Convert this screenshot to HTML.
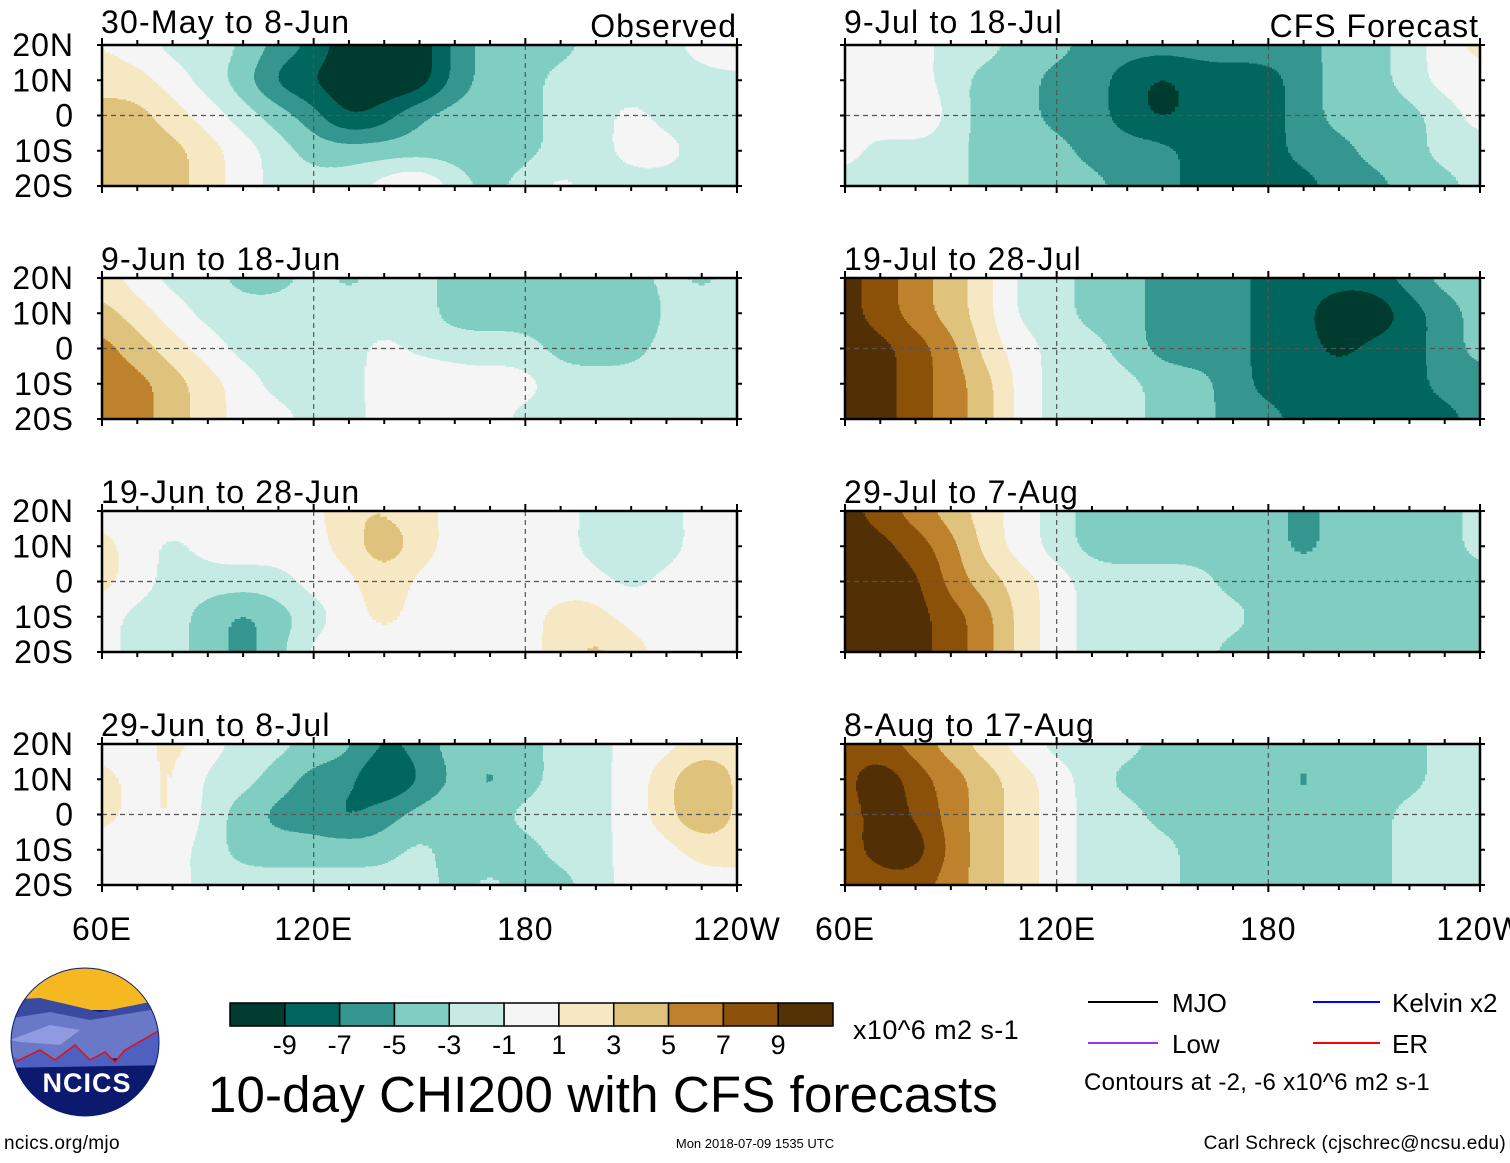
<!DOCTYPE html>
<html><head><meta charset="utf-8">
<style>
html,body{margin:0;padding:0;background:#fff;}
body{width:1510px;height:1158px;overflow:hidden;position:relative;font-family:"Liberation Sans",Arial,sans-serif;}
svg text{font-family:"Liberation Sans",Arial,sans-serif;}
</style></head>
<body>
<svg id="chart" width="1510" height="1158" viewBox="0 0 1510 1158" xmlns="http://www.w3.org/2000/svg">
<defs>
<filter id="contourFill" x="-10%" y="-40%" width="120%" height="180%" color-interpolation-filters="sRGB">
<feGaussianBlur stdDeviation="20 14"/>
<feComponentTransfer>
<feFuncR type="discrete" tableValues="0 0.004 0.208 0.502 0.780 0.961 0.965 0.875 0.749 0.549 0.329"/>
<feFuncG type="discrete" tableValues="0.235 0.400 0.592 0.804 0.918 0.961 0.910 0.761 0.506 0.318 0.188"/>
<feFuncB type="discrete" tableValues="0.188 0.369 0.561 0.757 0.898 0.961 0.765 0.490 0.176 0.039 0.020"/>
<feFuncA type="linear" slope="0" intercept="1"/>
</feComponentTransfer>
</filter>
</defs>
<g id="panels"></g>
<g id="colorbar"></g>
<g>
<clipPath id="logoClip"><circle cx="85" cy="1042" r="74"/></clipPath>
<g clip-path="url(#logoClip)">
<rect x="0" y="960" width="170" height="170" fill="#0b1a6e"/>
<rect x="0" y="960" width="170" height="50" fill="#f5b820"/>
<path d="M0 1000 L40 998 L70 1005 L100 1012 L150 1002 L170 1000 L170 1030 L0 1035Z" fill="#3a4aa0"/>
<path d="M0 1020 L50 1012 L90 1020 L150 1010 L170 1005 L170 1055 L0 1065Z" fill="#6a78c8"/>
<path d="M10 1040 L50 1025 L80 1030 L60 1045 L20 1042Z" fill="#8f9ae0"/>
<path d="M0 1050 L20 1060 L40 1050 L55 1060 L75 1045 L90 1060 L105 1052 L115 1062 L125 1050 L160 1030 L170 1028 L170 1065 L0 1068Z" fill="#5060c0"/>
<path d="M15 1062 L40 1050 L55 1060 L75 1045 L90 1060 L105 1052 L115 1062 L125 1050 L160 1030" fill="none" stroke="#e01010" stroke-width="1.5"/>
</g>
<circle cx="85" cy="1042" r="74" fill="none" stroke="#0b1a6e" stroke-width="1"/>
<text x="87" y="1092" font-size="27" font-weight="bold" fill="#fff" text-anchor="middle" letter-spacing="1">NCICS</text>
</g>
<text x="4" y="1149" font-size="19" letter-spacing="0.3">ncics.org/mjo</text>
<text x="755" y="1148" font-size="13" text-anchor="middle">Mon 2018-07-09 1535 UTC</text>
<text x="1506" y="1149" font-size="19" text-anchor="end" letter-spacing="0.3">Carl Schreck (cjschrec@ncsu.edu)</text>
<text x="208" y="1112" font-size="51" letter-spacing="0.15">10-day CHI200 with CFS forecasts</text>
<text x="853" y="1039" font-size="27" letter-spacing="0.4">x10^6 m2 s-1</text>
<g>
<line x1="1088" y1="1002" x2="1158" y2="1002" stroke="#000" stroke-width="2"/>
<text x="1172" y="1012" font-size="26">MJO</text>
<line x1="1088" y1="1043" x2="1158" y2="1043" stroke="#9b30ff" stroke-width="2"/>
<text x="1172" y="1053" font-size="26">Low</text>
<line x1="1313" y1="1002" x2="1380" y2="1002" stroke="#0000ff" stroke-width="2"/>
<text x="1392" y="1012" font-size="26">Kelvin x2</text>
<line x1="1313" y1="1043" x2="1380" y2="1043" stroke="#ff0000" stroke-width="2"/>
<text x="1392" y="1053" font-size="26">ER</text>
<text x="1084" y="1090" font-size="24" letter-spacing="0.3">Contours at -2, -6 x10^6 m2 s-1</text>
</g>
</svg>
<script>
const lons=[60,70,80,90,100,110,120,130,140,150,160,170,180,190,200,210,220,230,240];
const lats=[20,10,0,-10,-20];
const panelTitles=["30-May to 8-Jun","9-Jun to 18-Jun","19-Jun to 28-Jun","29-Jun to 8-Jul","9-Jul to 18-Jul","19-Jul to 28-Jul","29-Jul to 7-Aug","8-Aug to 17-Aug"];
const cbLevels=[-9,-7,-5,-3,-1,1,3,5,7,9];
const cbColors=["#003c30","#01665e","#35978f","#80cdc1","#c7eae5","#f5f5f5","#f6e8c3","#dfc27d","#bf812d","#8c510a","#543005"];
const xTickLabels=["60E","120E","180","120W"];
const yTickLabels=["20N","10N","0","10S","20S"];
const p1=[[1,0,-2,-2,-3,-6,-7,-12,-12,-12,-6,-4,-4,-4,-2,-2,-2,0,2],[2,2,0,-2,-4,-8,-9,-12,-12,-12,-6,-4,-4,-2,-2,-2,-2,-2,-2],[4,4,2,0,-2,-4,-6,-10,-8,-5,-4,-4,-4,-2,-2,0,-2,-2,-2],[4,4,4,2,0,-2,-4,-4,-4,-4,-4,-4,-4,-2,-2,0,0,-2,-2],[4,4,4,2,0,-2,-2,-2,0,2,-2,-4,-2,0,-2,-2,-2,-2,-2]];
const p2=[[2,0,-2,-2,-4,-4,-2,-4,-2,-2,-4,-4,-4,-4,-4,-4,-2,-4,-2],[4,2,0,-2,-2,-2,-2,-2,-2,-2,-4,-4,-4,-4,-4,-6,-2,-2,-2],[6,4,2,0,-2,-2,-2,-2,0,-2,-2,-2,-2,-4,-4,-4,-2,-2,-2],[6,6,4,2,0,-2,-2,-2,0,2,0,0,0,-2,-2,-2,-2,-2,-2],[6,6,4,2,0,0,-2,-2,0,0,0,0,-2,-2,-2,-2,-2,-2,-2]];
const p3=[[0,0,0,0,0,0,0,3,3,2,0,0,0,0,-2,-2,-2,0,0],[2,0,-2,0,0,0,0,2,5,2,0,0,0,0,-2,-4,-2,0,0],[2,0,-2,-2,-2,-2,0,0,3,0,0,0,0,0,0,-2,0,0,0],[0,-2,-2,-4,-6,-4,-2,0,2,0,0,0,0,2,2,0,0,0,0],[0,-2,-2,-4,-6,-4,0,0,0,0,0,0,0,2,4,2,0,0,0]];
const p4=[[0,0,2,0,-2,-2,-4,-4,-8,-6,-4,-4,-4,-2,-2,0,0,2,2],[2,0,2,-2,-2,-4,-6,-6,-10,-7,-4,-6,-4,-2,-2,0,2,6,2],[2,0,2,-2,-4,-6,-6,-8,-6,-4,-4,-4,-2,-2,-2,0,2,6,2],[0,0,0,-2,-4,-4,-4,-4,-4,-2,-4,-4,-4,-2,-2,0,0,2,2],[0,0,0,-2,-2,-2,-2,-2,-2,-2,-4,-2,-4,-4,-2,0,0,0,0]];
const p5=[[0,0,0,-2,-2,-4,-4,-6,-6,-6,-6,-6,-6,-6,-4,-4,-2,0,2],[0,0,0,-2,-4,-4,-6,-6,-8,-10,-8,-8,-8,-6,-4,-4,-2,0,0],[0,0,2,-2,-4,-4,-6,-6,-8,-10,-8,-8,-8,-6,-4,-4,-4,-2,0],[0,-2,-2,-2,-4,-4,-4,-6,-6,-6,-8,-8,-8,-6,-6,-4,-4,-2,-2],[-2,-2,-2,-2,-4,-4,-4,-4,-6,-6,-8,-8,-8,-8,-6,-6,-4,-4,-2]];
const p6=[[10,8,6,4,2,-2,-2,-4,-4,-6,-6,-6,-8,-8,-8,-8,-6,-4,-4],[10,8,6,4,2,-2,-2,-4,-4,-6,-6,-6,-8,-8,-12,-12,-8,-6,-4],[10,10,8,6,2,0,-2,-2,-4,-6,-6,-6,-8,-8,-10,-8,-8,-6,-4],[10,10,8,6,4,0,-2,-2,-2,-4,-4,-6,-8,-8,-8,-8,-8,-6,-6],[10,10,8,6,4,0,-2,-2,-2,-4,-4,-6,-6,-8,-8,-8,-8,-8,-6]];
const p7=[[10,8,6,4,2,0,-2,-4,-4,-4,-4,-4,-4,-6,-4,-4,-4,-4,-2],[10,10,8,6,2,0,-2,-4,-4,-4,-4,-4,-4,-6,-4,-4,-4,-4,-2],[10,10,10,6,4,2,0,-2,-2,-2,-2,-4,-4,-4,-4,-4,-4,-4,-4],[10,10,10,8,6,2,0,-2,-2,-2,-2,-2,-4,-4,-4,-4,-4,-4,-4],[10,10,10,8,6,2,0,-2,-2,-2,-2,-4,-4,-4,-4,-4,-4,-4,-4]];
const p8=[[8,8,6,4,2,0,-2,-2,-2,-4,-4,-4,-4,-4,-4,-4,-4,-2,-2],[8,12,8,6,4,2,0,-2,-4,-4,-4,-4,-4,-6,-4,-4,-4,-2,-2],[8,10,9,6,4,2,0,-2,-2,-4,-4,-4,-4,-4,-4,-4,-2,-2,-2],[8,10,12,6,4,2,0,-2,-2,-2,-4,-4,-4,-4,-4,-4,-2,-2,-2],[8,8,8,6,4,2,0,-2,-2,-2,-4,-4,-4,-4,-4,-4,-2,-2,-2]];
const panelData=[p1,p2,p3,p4,p5,p6,p7,p8];

const NS="http://www.w3.org/2000/svg";
const PW=635, PH=141;
const colX=[102,845];
const rowY=[45,278,511,744];
const titleY=[33,270,503,736];
function mk(tag,attrs,parent){const e=document.createElementNS(NS,tag);for(const k in attrs)e.setAttribute(k,attrs[k]);if(parent)parent.appendChild(e);return e;}
function xScale(x0,lon){return x0+(lon-60)/180*PW;}
function yScale(y0,lat){return y0+(20-lat)/40*PH;}
const root=document.getElementById('panels');
panelData.forEach((grid,i)=>{
  const col=i<4?0:1,row=i%4;
  const x0=colX[col],y0=rowY[row];
  const g=mk('g',{},root);
  
  
  const cp=mk('clipPath',{id:'cp'+i},g);
  mk('rect',{x:x0,y:y0,width:PW,height:PH},cp);
  const clipG=mk('g',{'clip-path':'url(#cp'+i+')'},g);
  const fg=mk('g',{filter:'url(#contourFill)'},clipG);
  const dx=PW/18, dy=PH/4;
  grid.forEach((rowv,r)=>{
    rowv.forEach((v,c)=>{
      let cx=xScale(x0,lons[c]), cy=yScale(y0,lats[r]);
      let left=cx-dx/2, right=cx+dx/2, top=cy-dy/2, bot=cy+dy/2;
      if(c===0)left-=70; if(c===lons.length-1)right+=70;
      if(r===0)top-=60; if(r===lats.length-1)bot+=60;
      const gv=Math.max(0,Math.min(1,(v+11)/22));
      const gg=Math.round(gv*255);
      const cell=mk('rect',{x:left,y:top,width:right-left+0.5,height:bot-top+0.5,fill:'rgb('+gg+','+gg+','+gg+')'},fg);
      
      
    });
  });
  [120,180].forEach(l=>{const ln=mk('line',{x1:xScale(x0,l),x2:xScale(x0,l),y1:y0,y2:y0+PH,stroke:'#555','stroke-dasharray':'5,4','stroke-width':1.2},g);
    });
  const eq=mk('line',{x1:x0,x2:x0+PW,y1:yScale(y0,0),y2:yScale(y0,0),stroke:'#555','stroke-dasharray':'5,4','stroke-width':1.2},g);
  
  const fr=mk('rect',{x:x0,y:y0,width:PW,height:PH,fill:'none',stroke:'#000','stroke-width':2.5},g);
  
  for(let l=60;l<=240;l+=10){const x=xScale(x0,l);const len=(l%60===0)?7:5;
    mk('line',{x1:x,x2:x,y1:y0,y2:y0-len,stroke:'#000','stroke-width':2},g);
    mk('line',{x1:x,x2:x,y1:y0+PH,y2:y0+PH+len,stroke:'#000','stroke-width':2},g);}
  lats.forEach(la=>{const y=yScale(y0,la);
    mk('line',{x1:x0,x2:x0-5,y1:y,y2:y,stroke:'#000','stroke-width':2},g);
    mk('line',{x1:x0+PW,x2:x0+PW+5,y1:y,y2:y,stroke:'#000','stroke-width':2},g);});
  const t=mk('text',{x:x0-1,y:titleY[row],'font-size':32,'letter-spacing':'1.2'},g);t.textContent=panelTitles[i];
  
  if(col===0){
    lats.forEach((la,k)=>{const yl=mk('text',{x:74,y:yScale(y0,la)+11,'font-size':32,'text-anchor':'end','letter-spacing':'1'},g);yl.textContent=yTickLabels[k];
      });
  }
  if(row===3){
    [60,120,180,240].forEach((l,k)=>{const xl=mk('text',{x:xScale(x0,l),y:940,'font-size':32,'text-anchor':'middle','letter-spacing':'1'},g);xl.textContent=xTickLabels[k];
      });
  }
});
const tl=mk('text',{x:737,y:37,'font-size':32,'text-anchor':'end','letter-spacing':'1'},root);tl.textContent='Observed';

const tr=mk('text',{x:1479,y:37,'font-size':32,'text-anchor':'end','letter-spacing':'1'},root);tr.textContent='CFS Forecast';

const cb=document.getElementById('colorbar');
const cbX=230,cbW=603,cbY=1003,cbH=23,bw=cbW/cbColors.length;
cbColors.forEach((c,k)=>{const r=mk('rect',{x:cbX+k*bw,y:cbY,width:bw,height:cbH,fill:c,stroke:'#000','stroke-width':1.5},cb);
  });
cbLevels.forEach((v,k)=>{const t=mk('text',{x:cbX+(k+1)*bw,y:1054,'font-size':27,'text-anchor':'middle'},cb);t.textContent=String(v);
  });
</script>
</body></html>
